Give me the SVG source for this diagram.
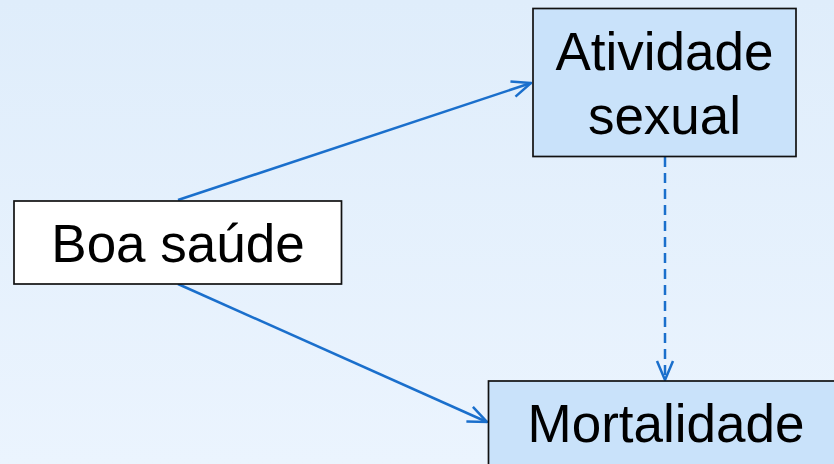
<svg xmlns="http://www.w3.org/2000/svg" width="834" height="464" viewBox="0 0 834 464">
  <defs>
    <linearGradient id="bg" x1="0" y1="0" x2="0" y2="1">
      <stop offset="0" stop-color="#dfedfb"/>
      <stop offset="1" stop-color="#ebf4fe"/>
    </linearGradient>
    <marker id="arr" viewBox="0 0 22 22" refX="21" refY="11" markerWidth="22" markerHeight="22" markerUnits="userSpaceOnUse" orient="auto">
      <path d="M2,3 L21,11 L2,19" fill="none" stroke="#1a6fcc" stroke-width="2.5"/>
    </marker>
  </defs>
  <style>
    .box { stroke: #111; stroke-width: 1.7; }
    .blue { fill: #c9e2fa; }
    .white { fill: #ffffff; }
    .lbl { font-family: "Liberation Sans", Arial, sans-serif; font-size: 53px; fill: #000; text-anchor: middle; }
    .conn { stroke: #1a6fcc; stroke-width: 2.5; fill: none; marker-end: url(#arr); }
    .dash { stroke-dasharray: 10 6; }
  </style>
  <rect x="0" y="0" width="834" height="464" fill="url(#bg)"/>
  <g id="connectors">
    <line class="conn" x1="178" y1="200" x2="531" y2="83"/>
    <line class="conn" x1="178" y1="284" x2="487" y2="422"/>
    <line class="conn dash" x1="665" y1="157" x2="665" y2="380"/>
  </g>
  <g id="node-boa-saude">
    <rect class="box white" x="14" y="201" width="327.5" height="83"/>
    <text class="lbl" x="178" y="262">Boa saúde</text>
  </g>
  <g id="node-atividade-sexual">
    <rect class="box blue" x="533" y="8.5" width="263" height="148"/>
    <text class="lbl" x="664.5" y="70">Atividade</text>
    <text class="lbl" x="664.5" y="133.5">sexual</text>
  </g>
  <g id="node-mortalidade">
    <rect class="box blue" x="488.5" y="381" width="360" height="100"/>
    <text class="lbl" x="666" y="442">Mortalidade</text>
  </g>
</svg>
